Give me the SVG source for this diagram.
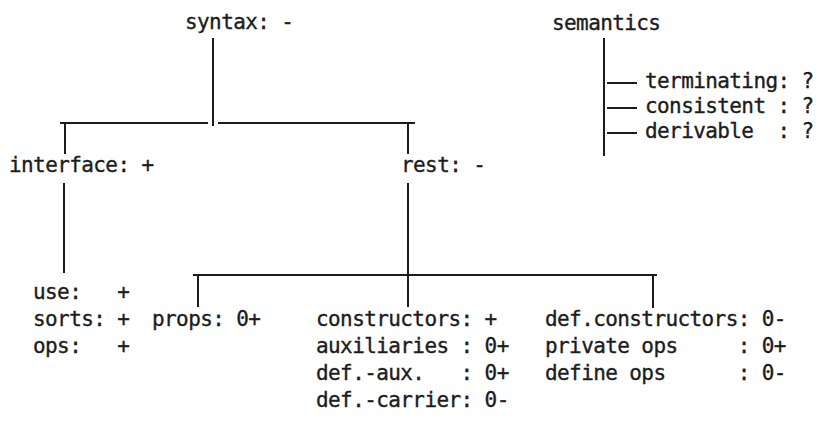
<svg xmlns="http://www.w3.org/2000/svg" width="819" height="428" viewBox="0 0 819 428">
<style>
text { font-family: "DejaVu Sans Mono", "Liberation Mono", monospace; font-size: 21px; letter-spacing: -0.6px; fill: #1c1c1c; stroke: #1c1c1c; stroke-width: 0.35px; white-space: pre; }
.ln { stroke: #1c1c1c; stroke-width: 2; fill: none; }
</style>
<rect width="819" height="428" fill="#ffffff"/>
<g id="connectors">
  <line class="ln" x1="213" y1="38" x2="213" y2="126"/>
  <line class="ln" x1="60" y1="123" x2="208" y2="123"/>
  <line class="ln" x1="218" y1="123" x2="415" y2="123"/>
  <line class="ln" x1="65" y1="123" x2="65" y2="154"/>
  <line class="ln" x1="408" y1="123" x2="408" y2="154"/>
  <line class="ln" x1="64" y1="183" x2="64" y2="273"/>
  <line class="ln" x1="408" y1="183" x2="408" y2="307"/>
  <line class="ln" x1="193" y1="275" x2="657" y2="275"/>
  <line class="ln" x1="198" y1="275" x2="198" y2="307"/>
  <line class="ln" x1="653" y1="275" x2="653" y2="308"/>
  <line class="ln" x1="604" y1="38" x2="604" y2="156"/>
  <line class="ln" x1="607" y1="83" x2="637" y2="83"/>
  <line class="ln" x1="607" y1="108" x2="637" y2="108"/>
  <line class="ln" x1="607" y1="133" x2="637" y2="133"/>
</g>
<g id="syntax"><text x="185" y="29">syntax: -</text></g>
<g id="semantics"><text x="552" y="30">semantics</text></g>
<g id="terminating"><text x="645" y="88">terminating: ?</text></g>
<g id="consistent"><text x="645" y="113">consistent : ?</text></g>
<g id="derivable"><text x="645" y="138">derivable  : ?</text></g>
<g id="interface"><text x="9" y="172">interface: +</text></g>
<g id="rest"><text x="401" y="172">rest: -</text></g>
<g id="interface-items">
  <text x="33" y="299">use:   +</text>
  <text x="33" y="326">sorts: +</text>
  <text x="33" y="353">ops:   +</text>
</g>
<g id="props"><text x="152" y="326">props: 0+</text></g>
<g id="constructors">
  <text x="316" y="326">constructors: +</text>
  <text x="316" y="353">auxiliaries : 0+</text>
  <text x="316" y="380">def.-aux.   : 0+</text>
  <text x="316" y="407">def.-carrier: 0-</text>
</g>
<g id="def-constructors">
  <text x="545" y="326">def.constructors: 0-</text>
  <text x="545" y="353">private ops     : 0+</text>
  <text x="545" y="380">define ops      : 0-</text>
</g>
</svg>
